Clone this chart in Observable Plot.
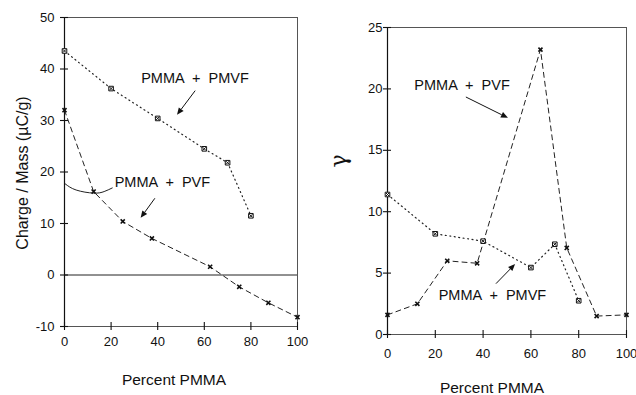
<!DOCTYPE html>
<html><head><meta charset="utf-8">
<script src="https://cdn.jsdelivr.net/npm/d3@7"></script>
<script src="https://cdn.jsdelivr.net/npm/@observablehq/plot@0.6"></script>
<style>
body{margin:0;background:#fff;}
#c{display:flex;width:636px;height:395px;overflow:hidden;}
</style></head><body><div id="c"></div>
<script>
// Left panel: Charge / Mass
const pmvfX_L = [0, 20, 40, 60, 70, 80];
const pmvfY_L = [43.5, 36.2, 30.4, 24.5, 21.8, 11.5];
const pvfX_L = [0, 12.5, 25, 37.5, 62.5, 75, 87.5, 100];
const pvfY_L = [32, 16.2, 10.4, 7.1, 1.6, -2.3, -5.4, -8.2];
// Right panel: gamma
const pmvfX_R = [0, 20, 40, 60, 70, 80];
const pmvfY_R = [11.4, 8.2, 7.6, 5.45, 7.35, 2.75];
const pvfX_R = [0, 12.5, 25, 37.5, 64, 75, 87.5, 100];
const pvfY_R = [1.6, 2.5, 6.0, 5.8, 23.2, 7.05, 1.5, 1.6];

const xTicks = [0, 20, 40, 60, 80, 100];
const yTicksL = [-10, 0, 10, 20, 30, 40, 50];
const yTicksR = [0, 5, 10, 15, 20, 25];

// annotations (data units)
const labelsL = [{x: 56, y: 38.2, t: "PMMA  +  PMVF"}, {x: 42, y: 18.0, t: "PMMA  +  PVF"}];
const arrowsL = [{x1: 56.3, y1: 35.7, x2: 48.5, y2: 31.0}, {x1: 39, y1: 14.8, x2: 32.9, y2: 11.0}];
const curveX_L = [0.3, 5, 12.5, 17, 20.5];
const curveY_L = [17.7, 16.5, 15.9, 16.2, 16.9];
const labelsR = [{x: 31.2, y: 20.3, t: "PMMA  +  PVF"}, {x: 43.9, y: 3.2, t: "PMMA  +  PMVF"}];
const arrowsR = [{x1: 33.0, y1: 19.3, x2: 50.6, y2: 17.6}, {x1: 45.6, y1: 4.1, x2: 53.6, y2: 5.7}];

const zip = (xs, ys) => xs.map((x, i) => ({x, y: ys[i]}));
const font = "'Liberation Sans', Arial, Helvetica, sans-serif";

function arrowMark(data) {
  return (index, scales) => {
    const g = d3.create("svg:g");
    for (const a of data) {
      const x1 = scales.x(a.x1), y1 = scales.y(a.y1), x2 = scales.x(a.x2), y2 = scales.y(a.y2);
      const ang = Math.atan2(y2 - y1, x2 - x1), L = 7, W = 3;
      const bx = x2 - L * Math.cos(ang), by = y2 - L * Math.sin(ang);
      g.append("line").attr("x1", x1).attr("y1", y1).attr("x2", bx).attr("y2", by)
        .attr("stroke", "#111").attr("stroke-width", 1);
      const px = -Math.sin(ang) * W, py = Math.cos(ang) * W;
      g.append("path").attr("d", `M${x2},${y2}L${bx + px},${by + py}L${bx - px},${by - py}Z`).attr("fill", "#111");
    }
    return g.node();
  };
}

function panel(o) {
  return Plot.plot({
    width: o.width, height: 395,
    marginLeft: o.ml, marginRight: o.mr, marginTop: o.mt, marginBottom: o.mb,
    style: {fontFamily: font, fontSize: "13px", color: "#111", background: "transparent"},
    x: {domain: [0, 100]},
    y: {domain: o.ydomain},
    marks: [
      Plot.frame({stroke: "#555", strokeWidth: 1}),
      ...(o.zero ? [Plot.ruleY([0], {stroke: "#222", strokeWidth: 1})] : []),
      Plot.axisX({ticks: xTicks, tickSize: 8, dy: -4, fill: "none", label: null, stroke: "#111", strokeWidth: 1.1}),
      Plot.axisX({ticks: xTicks, tickSize: 0, tickPadding: o.xpad, label: null, fontSize: 13, tickFormat: d => String(d)}),
      Plot.axisY({ticks: o.yticks, tickSize: 8, dx: 4, fill: "none", label: null, stroke: "#111", strokeWidth: 1.1}),
      Plot.axisY({ticks: o.yticks, tickSize: 0, tickPadding: o.ypad, label: null, fontSize: 13, tickFormat: d => String(d)}),
      Plot.ruleX([0], {stroke: "#111", strokeWidth: 1.2}),
      Plot.line(o.pmvf, {x: "x", y: "y", stroke: "#222", strokeWidth: 1.2, strokeDasharray: "1,3.5"}),
      Plot.line(o.pvf, {x: "x", y: "y", stroke: "#222", strokeWidth: 1, strokeDasharray: "5,4"}),
      Plot.dot(o.pmvf, {x: "x", y: "y", symbol: "square", r: 2.6, stroke: "#111", fill: "#fff", strokeWidth: 1}),
      Plot.dot(o.pmvf, {x: "x", y: "y", symbol: "times", r: 1.6, stroke: "#111", strokeWidth: 1}),
      Plot.dot(o.pvf, {x: "x", y: "y", symbol: "times", r: 2, stroke: "#111", strokeWidth: 1.6}),
      ...(o.curve ? [Plot.line(o.curve, {x: "x", y: "y", curve: "natural", stroke: "#222", strokeWidth: 1})] : []),
      arrowMark(o.arrows),
      Plot.text(o.labels, {x: "x", y: "y", text: "t", fontSize: 14.5, fill: "#111"}),
      Plot.text([o.xlabel], {frameAnchor: "bottom", dx: o.xlx, dy: 54, lineAnchor: "middle", fontSize: 15.5, fill: "#111"}),
      Plot.text([o.ylabel], {frameAnchor: "left", dx: o.ylx, dy: o.yly, rotate: -90, textAnchor: "middle", lineAnchor: "middle", fontSize: o.ylfs, fontFamily: o.ylfont, fill: "#111"})
    ]
  });
}

const left = panel({
  width: 320, ml: 64, mr: 23, mt: 17, mb: 69, ydomain: [-10, 50], yticks: yTicksL,
  zero: true, xpad: 10, ypad: 10,
  pmvf: zip(pmvfX_L, pmvfY_L), pvf: zip(pvfX_L, pvfY_L), curve: zip(curveX_L, curveY_L),
  arrows: arrowsL, labels: labelsL,
  xlabel: "Percent PMMA", xlx: -7, ylabel: "Charge / Mass (µC/g)", ylx: -42, yly: 1, ylfs: 16, ylfont: font
});
const right = panel({
  width: 316, ml: 67, mr: 10, mt: 27, mb: 61, ydomain: [0, 25], yticks: yTicksR,
  zero: false, xpad: 14, ypad: 5,
  pmvf: zip(pmvfX_R, pmvfY_R), pvf: zip(pvfX_R, pvfY_R), curve: null,
  arrows: arrowsR, labels: labelsR,
  xlabel: "Percent PMMA", xlx: -15, ylabel: "γ", ylx: -49, yly: -20, ylfs: 22, ylfont: "'DejaVu Serif', serif"
});
document.getElementById("c").append(left, right);
</script>
</body></html>
